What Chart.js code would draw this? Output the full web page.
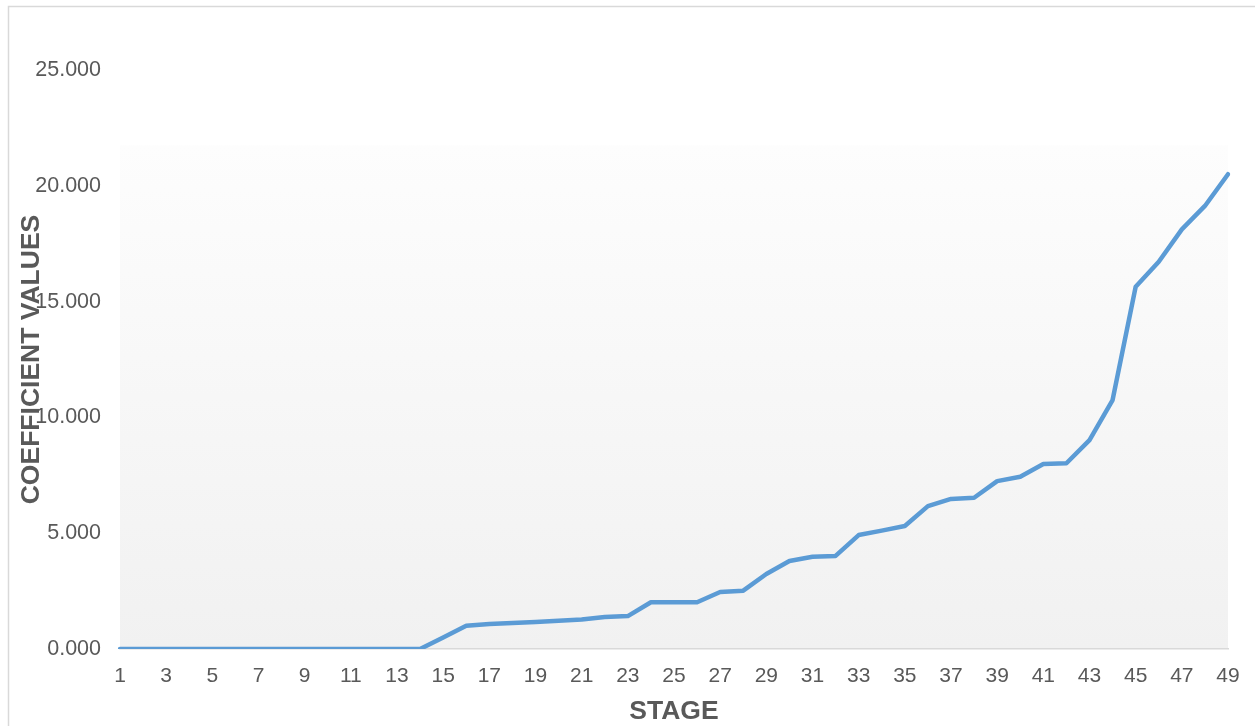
<!DOCTYPE html>
<html>
<head>
<meta charset="utf-8">
<script src="https://cdn.jsdelivr.net/npm/chart.js@4/dist/chart.umd.min.js"></script>
<style>
  html, body { margin: 0; padding: 0; background: #ffffff; }
  #wrap { width: 1255px; height: 726px; position: relative; }
</style>
</head>
<body>
<div id="wrap"><canvas id="chart" width="1255" height="726"></canvas></div>
<script>
// Stage numbers along the horizontal axis
const stages = ['1','2','3','4','5','6','7','8','9','10','11','12','13','14','15','16','17','18','19','20',
  '21','22','23','24','25','26','27','28','29','30','31','32','33','34','35','36','37','38','39','40',
  '41','42','43','44','45','46','47','48','49'];

// Coefficient value at each stage
const coefficientValues = [0, 0, 0, 0, 0, 0, 0, 0, 0, 0, 0, 0, 0, 0,
  0.50, 1.00, 1.08, 1.12, 1.17, 1.22, 1.27, 1.38, 1.42, 2.02, 2.02, 2.02, 2.46, 2.52, 3.24, 3.80,
  3.98, 4.02, 4.92, 5.11, 5.31, 6.17, 6.48, 6.53, 7.25, 7.44, 7.99, 8.02, 9.02, 10.75, 15.64,
  16.72, 18.12, 19.13, 20.50];

// Value axis range and step
const yMin = 0;
const yMax = 25;
const yStep = 5;

const FONT = "'Liberation Sans', Arial, sans-serif";
const TEXT = '#595959';

// Outer frame and soft gradient behind the plot
const backdrop = {
  id: 'backdrop',
  beforeDraw(chart) {
    const { ctx, chartArea } = chart;
    ctx.save();
    ctx.fillStyle = '#ffffff';
    ctx.fillRect(0, 0, chart.width, chart.height);
    ctx.strokeStyle = '#d9d9d9';
    ctx.lineWidth = 1.5;
    ctx.strokeRect(8.5, 6.5, chart.width + 10, chart.height + 10);
    const h = chartArea.bottom - chartArea.top;
    const top = chartArea.top + h * 0.13;
    const g = ctx.createLinearGradient(0, top, 0, chartArea.bottom);
    g.addColorStop(0, '#fdfdfd');
    g.addColorStop(1, '#f1f1f1');
    ctx.fillStyle = g;
    ctx.fillRect(chartArea.left, top, chartArea.right - chartArea.left, chartArea.bottom - top);
    ctx.restore();
  }
};

new Chart(document.getElementById('chart'), {
  type: 'line',
  data: {
    labels: stages,
    datasets: [{
      label: 'Coefficient values',
      data: coefficientValues,
      borderColor: '#5b9bd5',
      borderWidth: 4.5,
      pointRadius: 0,
      pointHoverRadius: 0,
      tension: 0,
      fill: false,
      borderJoinStyle: 'round',
      borderCapStyle: 'round'
    }]
  },
  options: {
    responsive: false,
    animation: false,
    events: [],
    layout: { padding: { left: 0, top: 70, right: 27, bottom: 0 } },
    plugins: {
      legend: { display: false },
      tooltip: { enabled: false }
    },
    scales: {
      x: {
        type: 'category',
        offset: false,
        grid: { display: false, drawTicks: false },
        border: { display: true, color: '#d9d9d9', width: 1.5 },
        ticks: {
          autoSkip: false,
          maxRotation: 0,
          minRotation: 0,
          padding: 15,
          color: TEXT,
          font: { family: FONT, size: 21 },
          callback: function (value, index) {
            return index % 2 === 0 ? this.getLabelForValue(value) : '';
          }
        },
        title: {
          display: true,
          text: 'STAGE',
          color: TEXT,
          font: { family: FONT, size: 26.5, weight: 'bold', lineHeight: 1 },
          padding: { top: 0, bottom: 0.75 }
        },
        afterFit(scale) { scale.height = 77; }
      },
      y: {
        min: yMin,
        max: yMax,
        grid: { display: false, drawTicks: false },
        border: { display: false },
        ticks: {
          stepSize: yStep,
          padding: 19,
          color: TEXT,
          font: { family: FONT, size: 21.5 },
          callback: (v) => Number(v).toFixed(3)
        },
        title: {
          display: true,
          text: 'COEFFICIENT VALUES',
          color: TEXT,
          font: { family: FONT, size: 26.5, weight: 'bold', lineHeight: 1.2 },
          padding: { top: 16, bottom: 0 }
        },
        afterFit(scale) { scale.width = 120; }
      }
    }
  },
  plugins: [backdrop]
});
</script>
</body>
</html>
